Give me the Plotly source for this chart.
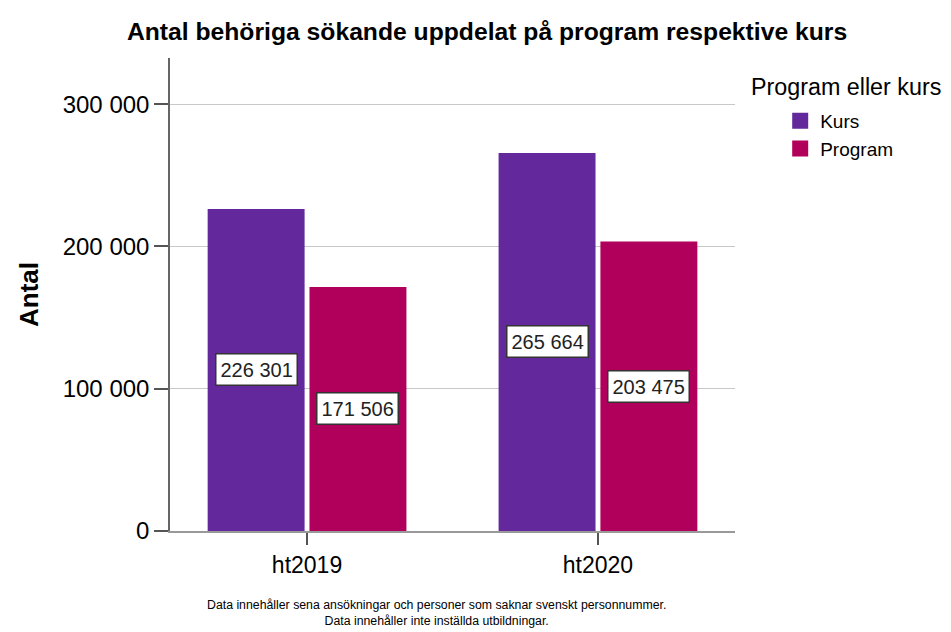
import plotly.graph_objects as go

categories = ["ht2019", "ht2020"]
series_names = ["Kurs", "Program"]
kurs_values = [226301, 265664]
program_values = [171506, 203475]
y_tick_values = [0, 100000, 200000, 300000]
y_tick_labels = ["0", "100 000", "200 000", "300 000"]

colors = {"Kurs": "#63289c", "Program": "#b1005b"}
FONT = "Liberation Sans, Arial, sans-serif"

def fmt(v):
    return f"{v:,}".replace(",", " ")

fig = go.Figure()
series = {"Kurs": kurs_values, "Program": program_values}
for name in series_names:
    fig.add_trace(go.Bar(
        x=categories, y=series[name], name=name,
        marker=dict(color=colors[name], line=dict(width=0)),
        showlegend=False, hoverinfo="x+y+name",
    ))
    # legend proxy with larger square swatch
    fig.add_trace(go.Scatter(
        x=[None], y=[None], mode="markers", name=name,
        marker=dict(symbol="square", size=18, color=colors[name]),
        showlegend=True,
    ))

# value labels centered at half bar height
offsets = {"Kurs": -0.175, "Program": 0.175}
for name in series_names:
    for i, v in enumerate(series[name]):
        fig.add_annotation(
            x=i + offsets[name], y=v / 2, xref="x", yref="y",
            text=fmt(v), showarrow=False,
            font=dict(family=FONT, size=20, color="#222222"),
            bgcolor="white", bordercolor="#333333", borderwidth=1.5, borderpad=4,
        )

fig.update_layout(
    width=943, height=624,
    paper_bgcolor="white", plot_bgcolor="white",
    margin=dict(l=162, r=216, t=50, b=101, autoexpand=False),
    barmode="group", bargap=0.30, bargroupgap=0.048,
    title=dict(
        text="<b>Antal behöriga sökande uppdelat på program respektive kurs</b>",
        x=0.508, xanchor="center", y=0.963, yanchor="middle",
        font=dict(family=FONT, size=24.7, color="black"),
    ),
    font=dict(family=FONT, color="black"),
    legend=dict(
        x=1.08, xanchor="left", y=0.907, yanchor="top",
        xref="paper",
        font=dict(family=FONT, size=19, color="black"),
        tracegroupgap=0,
        bgcolor="rgba(0,0,0,0)",
    ),
    xaxis=dict(
        type="category", range=[-0.471, 1.471],
        showline=True, linecolor="#999999", linewidth=2,
        ticks="outside", ticklen=12, tickcolor="#555555", tickwidth=1.5,
        tickfont=dict(family=FONT, size=23, color="black"),
        showgrid=False, zeroline=False, fixedrange=True,
    ),
    yaxis=dict(
        range=[0, 332400],
        tickvals=y_tick_values, ticktext=y_tick_labels,
        showline=True, linecolor="#666666", linewidth=1.5,
        ticks="outside", ticklen=14, tickcolor="#555555", tickwidth=1.5,
        tickfont=dict(family=FONT, size=24, color="black"),
        showgrid=True, gridcolor="#c8c8c8", gridwidth=1,
        zeroline=False,
        title=dict(text="<b>Antal</b>", font=dict(family=FONT, size=26, color="black"), standoff=17),
    ),
)

# legend heading
fig.add_annotation(
    x=1.025, y=0.939, xref="paper", yref="paper", text="Program eller kurs",
    showarrow=False, font=dict(family=FONT, size=23.3, color="black"),
    xanchor="left", yanchor="middle",
)
# footnote
fig.add_annotation(
    x=0.472, y=-0.137, xref="paper", yref="paper",
    text="Data innehåller sena ansökningar och personer som saknar svenskt personnummer.<br>Data innehåller inte inställda utbildningar.",
    showarrow=False, font=dict(family=FONT, size=12.3, color="black"),
    xanchor="center", yanchor="top", align="center",
)

fig.write_html("out.html")
